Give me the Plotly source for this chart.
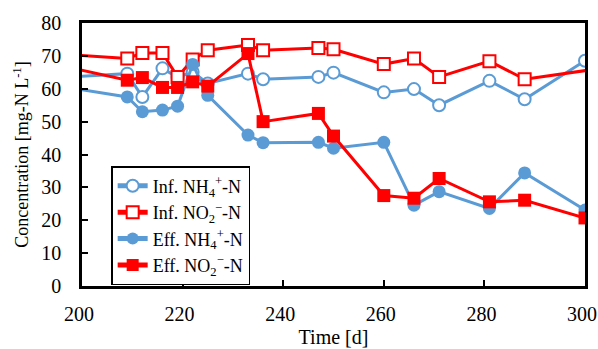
import plotly.graph_objects as go

# Data
inf_nh4_day = [196, 209, 212, 216, 219, 222, 225, 233, 236, 247, 250, 260, 266, 271, 281, 288, 300]
inf_nh4_val = [63.4, 64.6, 57.5, 66.2, 63.5, 65.1, 61.6, 64.6, 62.9, 63.6, 64.9, 58.9, 59.9, 55.0, 62.4, 56.8, 68.5]

inf_no2_day = [196, 209, 212, 216, 219, 222, 225, 233, 236, 247, 250, 260, 266, 271, 281, 288, 305]
inf_no2_val = [70.5, 69.2, 70.9, 70.9, 63.6, 68.9, 71.7, 73.3, 71.7, 72.4, 72.0, 67.5, 69.2, 63.6, 68.4, 62.9, 66.6]

eff_nh4_day = [196, 209, 212, 216, 219, 222, 225, 233, 236, 247, 250, 260, 266, 271, 281, 288, 300]
eff_nh4_val = [60.7, 57.5, 53.0, 53.5, 54.7, 67.4, 58.0, 45.9, 43.6, 43.7, 41.9, 43.7, 24.6, 28.7, 23.6, 34.4, 23.1]

eff_no2_day = [196, 209, 212, 216, 219, 222, 225, 233, 236, 247, 250, 260, 266, 271, 281, 288, 300]
eff_no2_val = [67.0, 62.6, 63.4, 60.4, 60.4, 62.1, 60.8, 70.7, 50.0, 52.5, 45.6, 27.5, 26.7, 32.7, 25.6, 26.1, 20.7]

series_names = [
    "Inf. NH<sub>4</sub><sup>+</sup>-N",
    "Inf. NO<sub>2</sub><sup>\u2212</sup>-N",
    "Eff. NH<sub>4</sub><sup>+</sup>-N",
    "Eff. NO<sub>2</sub><sup>\u2212</sup>-N",
]

x_ticks = [200, 220, 240, 260, 280, 300]
y_ticks = [0, 10, 20, 30, 40, 50, 60, 70, 80]

BLUE = "#5B9BD5"
RED = "#FF0000"
FONT = "Liberation Serif, Times New Roman, serif"

fig = go.Figure()

fig.add_trace(go.Scatter(
    x=inf_nh4_day, y=inf_nh4_val, name=series_names[0], mode="lines+markers",
    line=dict(color=BLUE, width=3),
    marker=dict(symbol="circle", size=12, color="white", line=dict(color=BLUE, width=2)),
))
fig.add_trace(go.Scatter(
    x=inf_no2_day, y=inf_no2_val, name=series_names[1], mode="lines+markers",
    line=dict(color=RED, width=3),
    marker=dict(symbol="square", size=12, color="white", line=dict(color=RED, width=2)),
))
fig.add_trace(go.Scatter(
    x=eff_nh4_day, y=eff_nh4_val, name=series_names[2], mode="lines+markers",
    line=dict(color=BLUE, width=3),
    marker=dict(symbol="circle", size=13, color=BLUE),
))
fig.add_trace(go.Scatter(
    x=eff_no2_day, y=eff_no2_val, name=series_names[3], mode="lines+markers",
    line=dict(color=RED, width=3),
    marker=dict(symbol="square", size=13, color=RED),
))

fig.update_traces(cliponaxis=True)

fig.update_layout(
    width=598, height=349,
    margin=dict(l=82, r=13, t=23, b=63),
    paper_bgcolor="white", plot_bgcolor="white",
    font=dict(family=FONT, size=20, color="black"),
    showlegend=True,
    legend=dict(
        x=0.058, y=0.456, xanchor="left", yanchor="top",
        bgcolor="white", bordercolor="black", borderwidth=1.5,
        font=dict(family=FONT, size=18),
        tracegroupgap=0, itemsizing="constant",
    ),
    xaxis=dict(
        range=[200, 300], tickvals=x_ticks, ticks="inside", ticklen=6, tickwidth=1.5,
        tickcolor="black", showline=True, linecolor="black", linewidth=2.5, mirror=True,
        showgrid=False, zeroline=False, automargin=False, ticklabelstandoff=8,
        ticklabeloverflow="allow", ticklabelshift=-3,
        tickfont=dict(family=FONT, size=20),
        title=dict(text="Time [d]", font=dict(family=FONT, size=20), standoff=7),
    ),
    yaxis=dict(
        range=[0, 80], tickvals=y_ticks, ticks="inside", ticklen=6, tickwidth=1.5,
        tickcolor="black", showline=True, linecolor="black",
        linewidth=2.5, mirror=True, showgrid=False, zeroline=False, automargin=False,
        ticklabelstandoff=14, ticklabeloverflow="allow",
        tickfont=dict(family=FONT, size=20),
        title=dict(text="Concentration [mg-N L<sup>-1</sup>]", font=dict(family=FONT, size=18), standoff=8),
    ),
)

fig.write_html("out.html", config={"displayModeBar": False},
               post_script="document.body.style.margin='0';document.body.style.overflow='hidden';")
